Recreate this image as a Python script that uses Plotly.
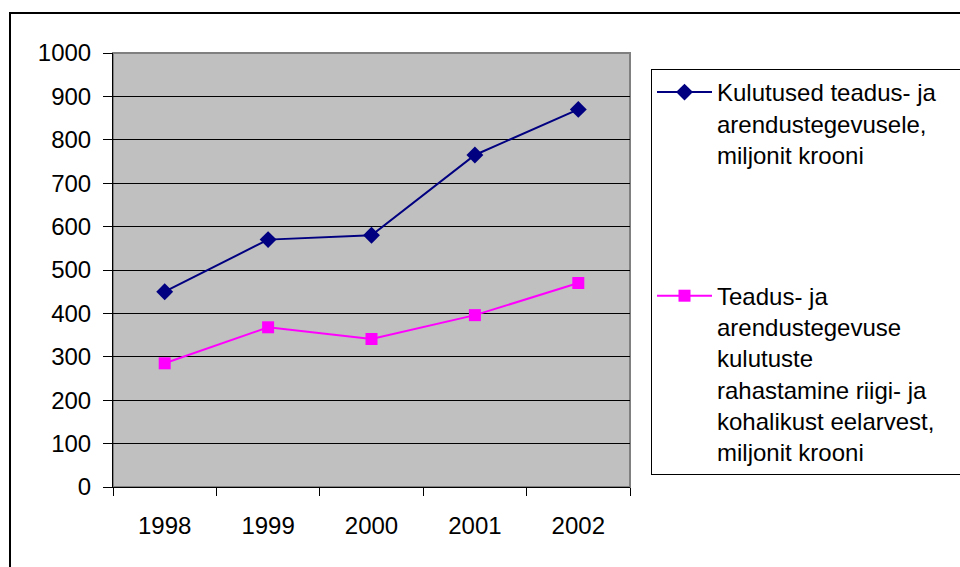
import plotly.graph_objects as go

years = ["1998", "1999", "2000", "2001", "2002"]
spending = [450, 570, 580, 765, 870]
state_funding = [285, 368, 341, 396, 470]
y_ticks = [0, 100, 200, 300, 400, 500, 600, 700, 800, 900, 1000]
name1 = "Kulutused teadus- ja\u00a0\u00a0\u00a0<br>arendustegevusele,<br>miljonit krooni"
name2 = ("Teadus- ja<br>arendustegevuse<br>kulutuste<br>rahastamine riigi- ja"
         "<br>kohalikust eelarvest,<br>miljonit krooni")

FONT = "Liberation Sans, Arial, sans-serif"

fig = go.Figure()
fig.add_trace(go.Scatter(
    x=years, y=spending, name=name1, mode="lines+markers",
    line=dict(color="#000080", width=2),
    marker=dict(symbol="diamond", size=13, color="#000080"),
    legendgroup="a",
))
fig.add_trace(go.Scatter(
    x=years, y=state_funding, name=name2, mode="lines+markers",
    line=dict(color="#FF00FF", width=2),
    marker=dict(symbol="square", size=12, color="#FF00FF"),
    legendgroup="b",
))

W, H = 960, 567
L, R, T, B = 113, 630, 53, 487
pw, ph = R - L, B - T

def px(x):
    return (x - L) / pw

def py(y):
    return (B - y) / ph

fig.update_layout(
    width=W, height=H,
    margin=dict(l=L, r=W - R, t=T, b=H - B, pad=0, autoexpand=False),
    paper_bgcolor="white",
    plot_bgcolor="#C0C0C0",
    font=dict(family=FONT, size=24, color="black"),
    showlegend=True,
    legend=dict(
        x=px(651), y=py(69), xanchor="left", yanchor="top",
        bgcolor="white", bordercolor="black", borderwidth=1,
        font=dict(family=FONT, size=24, color="black"),
        valign="top", itemwidth=55, tracegroupgap=107,
        traceorder="grouped",
    ),
    xaxis=dict(
        type="category", tickson="boundaries",
        showgrid=False, zeroline=False,
        showline=True, linecolor="black", linewidth=1,
        ticks="outside", ticklen=8, tickcolor="black", tickwidth=1,
        ticklabelstandoff=17,
        range=[-0.5, 4.5],
    ),
    yaxis=dict(
        range=[0, 1000], tickvals=y_ticks,
        showgrid=True, gridcolor="black", gridwidth=1,
        zeroline=False,
        showline=True, linecolor="black", linewidth=1,
        ticks="outside", ticklen=9, tickcolor="black", tickwidth=1,
        ticklabelstandoff=7,
    ),
    shapes=[
        dict(type="rect", xref="paper", yref="paper", x0=0, x1=1, y0=0, y1=1,
             line=dict(color="#808080", width=2), layer="below"),
        dict(type="rect", xref="paper", yref="paper",
             x0=px(10), x1=px(975), y0=py(13), y1=py(590),
             line=dict(color="black", width=2)),
    ],
)

fig.write_html(
    "out.html",
    config={"displayModeBar": False},
    post_script="document.body.style.margin='0px';document.body.style.padding='0px';",
)
